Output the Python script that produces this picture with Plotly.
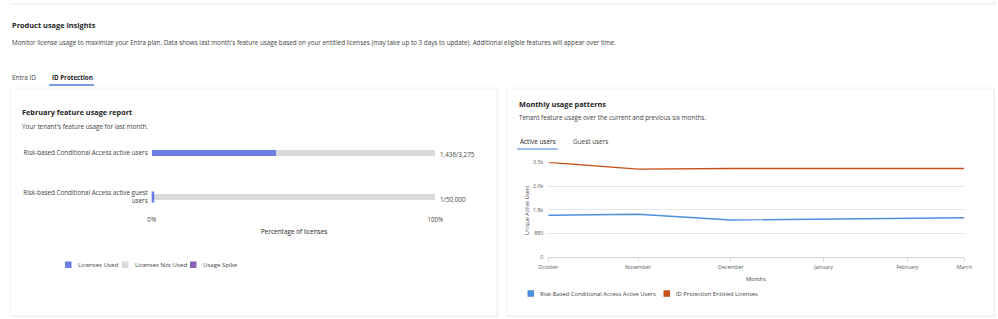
import plotly.graph_objects as go

W, H = 998, 319
FONT = "Segoe UI, Open Sans, sans-serif"

# ---------------- data ----------------
features = ["Risk-based Conditional Access active users",
            "Risk-based Conditional Access active guest users"]
feature_labels = ["Risk-based Conditional Access active users",
                  "Risk-based Conditional Access active guest<br>users"]
licenses_used = [1436, 1]
licenses_total = [3275, 50000]

months = ["October", "November", "December", "January", "February", "March"]
month_dates = ["2024-10-31", "2024-11-30", "2024-12-31", "2025-01-31", "2025-02-28", "2025-03-19"]
active_users = [1550, 1585, 1375, 1410, 1436, 1460]
entitled_licenses = [3500, 3250, 3275, 3275, 3275, 3275]
y_ticks = [0, 875, 1750, 2625, 3500]
y_ticktext = ["0", "880", "1.8k", "2.6k", "3.5k"]

C_USED = "#6a7ee6"
C_NOTUSED = "#dadada"
C_SPIKE = "#8764b8"
C_BLUE = "#4b8fde"
C_ORANGE = "#c65118"
C_TITLE = "#242424"
C_BODY = "#424242"
C_TICK = "#5c5c5c"


def px(x):
    return x / W


def py(y):
    return 1 - y / H


pct_used = [u / t * 100 for u, t in zip(licenses_used, licenses_total)]
pct_unused = [100 - p for p in pct_used]

fig = go.Figure()

# left: license usage bars (overlay: not-used drawn first, used on top)
fig.add_trace(go.Bar(
    y=features, x=pct_unused, base=pct_used, orientation="h",
    marker=dict(color=C_NOTUSED, line=dict(width=0)),
    width=0.14, name="Licenses Not Used", xaxis="x", yaxis="y",
    showlegend=False, hoverinfo="skip"))
fig.add_trace(go.Bar(
    y=features, x=pct_used, orientation="h",
    marker=dict(color=C_USED, line=dict(color=C_USED, width=[0, 5])),
    width=0.14, name="Licenses Used", xaxis="x", yaxis="y",
    showlegend=False, hoverinfo="skip"))

# right: monthly lines
fig.add_trace(go.Scatter(
    x=month_dates, y=active_users, mode="lines",
    line=dict(color=C_BLUE, width=1.4),
    name="Risk-Based Conditional Access Active Users",
    xaxis="x2", yaxis="y2", showlegend=False))
fig.add_trace(go.Scatter(
    x=month_dates, y=entitled_licenses, mode="lines",
    line=dict(color=C_ORANGE, width=1.4),
    name="ID Protection Entitled Licenses",
    xaxis="x2", yaxis="y2", showlegend=False))

shapes = []
annotations = []


def text(x, y, s, size, color=C_BODY, xanchor="left", bold=False, **kw):
    if bold:
        s = "<b>" + s + "</b>"
    annotations.append(dict(
        x=px(x), y=py(y), xref="paper", yref="paper", text=s, showarrow=False,
        xanchor=xanchor, yanchor="middle",
        font=dict(family=FONT, size=size, color=color), **kw))


def rect(x0, y0, x1, y1, fill, line=None, lw=0):
    shapes.append(dict(type="rect", xref="paper", yref="paper",
                       x0=px(x0), x1=px(x1), y0=py(y1), y1=py(y0),
                       fillcolor=fill, line=dict(color=line or fill, width=lw),
                       layer="below"))


# cards
rect(10, -6, 995, 5, "#f0f0f0")
rect(10, -6, 994, 4, "#ffffff", "#ececec", 0.8)
rect(10, 88, 498, 317, "#ededed")
rect(10, 88, 497, 316, "#ffffff", "#efefef", 0.8)
rect(507, 88, 995, 317, "#ededed")
rect(507, 88, 994, 316, "#ffffff", "#efefef", 0.8)

# headers
text(10, 25, "Product usage insights", 7.4, C_TITLE, bold=True)
text(10, 42.5, "Monitor license usage to maximize your Entra plan. Data shows last month's feature usage "
     "based on your entitled licenses (may take up to 3 days to update). Additional eligible features "
     "will appear over time.", 6.3)
text(10, 77, "Entra ID", 6.4)
text(50, 77, "ID Protection", 6.2, C_TITLE, bold=True)
rect(49, 84.3, 94, 85.8, "#5578dc")

text(20, 112, "February feature usage report", 7.3, C_TITLE, bold=True)
text(20, 126, "Your tenant's feature usage for last month.", 6.3)

text(517, 104, "Monthly usage patterns", 7.3, C_TITLE, bold=True)
text(517, 118, "Tenant feature usage over the current and previous six months.", 6.3)
text(518, 141.5, "Active users", 6.4, C_TITLE)
text(571, 141.5, "Guest users", 6.4)
rect(517, 148.3, 558, 149.8, "#7fa6e3")

# left chart extras
for f, u, t in zip(features, licenses_used, licenses_total):
    annotations.append(dict(x=100, y=f, xref="x", yref="y", text=f"{u:,}/{t:,}",
                            showarrow=False, xanchor="left", yanchor="middle", xshift=3, yshift=-2,
                            font=dict(family=FONT, size=6.3, color=C_BODY)))
text(294, 231.5, "Percentage of licenses", 6.4, C_TITLE, xanchor="center")

leg_left = [("Licenses Used", C_USED, 65), ("Licenses Not Used", C_NOTUSED, 122),
            ("Usage Spike", C_SPIKE, 190)]
for name, col, x0 in leg_left:
    rect(x0, 261.5, x0 + 6.5, 268, col)
    text(x0 + 10.5, 264.8, name, 6.1)

# right chart extras
text(527, 210, "Unique Active Users", 5.3, C_BODY, xanchor="center", textangle=-90)
text(756, 278.5, "Months", 5.6, C_BODY, xanchor="center")
leg_right = [("Risk-Based Conditional Access Active Users", C_BLUE, 527.5),
             ("ID Protection Entitled Licenses", C_ORANGE, 663.5)]
for name, col, x0 in leg_right:
    rect(x0, 290.3, x0 + 6.5, 296.8, col)
    text(x0 + 10.5, 293.5, name, 5.8)

fig.update_layout(
    width=W, height=H, margin=dict(l=0, r=0, t=0, b=0, pad=0, autoexpand=False),
    paper_bgcolor="white", plot_bgcolor="rgba(0,0,0,0)",
    barmode="overlay", showlegend=False,
    font=dict(family=FONT, color=C_BODY),
    shapes=shapes, annotations=annotations,
    xaxis=dict(domain=[px(151.7), px(435.3)], range=[0, 100], automargin=False,
               tickvals=[0, 100], ticktext=["0%", "100%"],
               showgrid=True, gridcolor="#e3e3e3", gridwidth=1,
               zeroline=False, showline=False, ticks="",
               ticklabelstandoff=3,
               tickfont=dict(family=FONT, size=6.2, color=C_BODY)),
    yaxis=dict(domain=[py(211.7), py(140)], type="category", automargin=False,
               categoryarray=features, range=[1.334, -0.295],
               tickvals=features, ticktext=feature_labels,
               showgrid=False, zeroline=False, showline=False, ticks="",
               ticklabelstandoff=3,
               tickfont=dict(family=FONT, size=6.3, color=C_BODY)),
    xaxis2=dict(domain=[px(548.3), px(964.3)], anchor="y2", type="date", automargin=False,
                range=[month_dates[0], month_dates[-1]],
                tickvals=month_dates, ticktext=months,
                showgrid=False, zeroline=False,
                showline=True, linecolor="#d4d4d4", linewidth=1,
                ticks="outside", ticklen=2.5, tickcolor="#d4d4d4",
                ticklabelstandoff=2,
                tickfont=dict(family=FONT, size=5.3, color=C_TICK)),
    yaxis2=dict(domain=[py(257.3), py(162.3)], anchor="x2", automargin=False,
                range=[0, 3502], tickvals=y_ticks, ticktext=y_ticktext,
                showgrid=True, gridcolor="#e6e6e6", gridwidth=1,
                zeroline=False, showline=False, ticks="",
                ticklabelstandoff=4,
                tickfont=dict(family=FONT, size=5.3, color=C_TICK)),
)

fig.write_html("out.html")
